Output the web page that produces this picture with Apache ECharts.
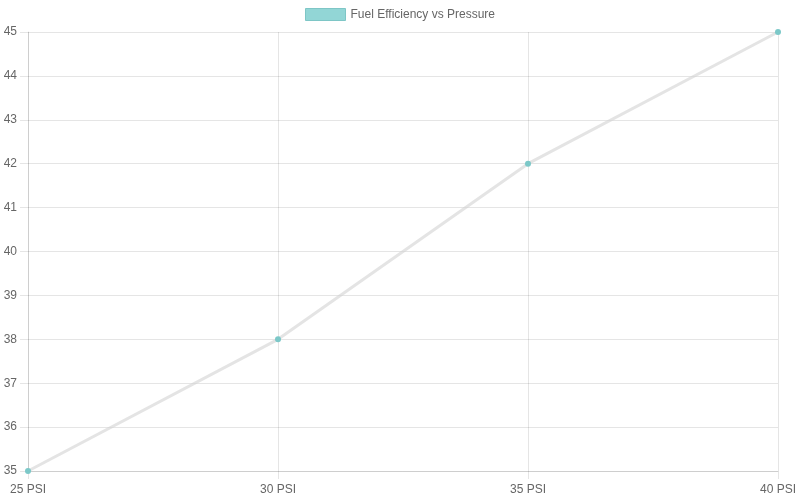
<!DOCTYPE html>
<html><head><meta charset="utf-8">
<script src="https://cdn.jsdelivr.net/npm/echarts@6/dist/echarts.min.js"></script>
<style>html,body{margin:0;padding:0;background:#fff}#c{width:800px;height:500px}</style>
</head><body><div id="c"></div>
<script>
const categories = ['25 PSI', '30 PSI', '35 PSI', '40 PSI'];
const efficiency = [35, 38, 42, 45];
const seriesName = 'Fuel Efficiency vs Pressure';

const chart = echarts.init(document.getElementById('c'));
const gridColor = 'rgba(0,0,0,0.1)';
chart.setOption({
  animation: false,
  textStyle: { fontFamily: 'Liberation Sans, Arial, sans-serif' },
  legend: {
    top: 8, left: 'center', padding: 0,
    itemWidth: 40, itemHeight: 12, itemGap: 10,
    icon: 'rect',
    textStyle: { color: '#666', fontSize: 12 },
    data: [{ name: seriesName, itemStyle: { color: '#92d6d6', borderColor: '#7ec6c6', borderWidth: 1 } }]
  },
  grid: { left: 28, right: 22, top: 32, bottom: 29, containLabel: false },
  xAxis: {
    type: 'category', data: categories, boundaryGap: false,
    axisLine: { lineStyle: { color: gridColor } },
    axisTick: { show: true, length: 8, lineStyle: { color: gridColor } },
    axisLabel: { color: '#666', fontSize: 12, margin: 13 },
    splitLine: { show: true, lineStyle: { color: gridColor } }
  },
  yAxis: {
    type: 'value', min: 35, max: 45, interval: 1,
    axisLine: { show: true, lineStyle: { color: gridColor } },
    axisTick: { show: true, length: 8, lineStyle: { color: gridColor } },
    axisLabel: { color: '#666', fontSize: 12, margin: 11 },
    splitLine: { show: true, lineStyle: { color: gridColor } }
  },
  series: [{
    name: seriesName, type: 'line', data: efficiency,
    lineStyle: { color: 'rgba(210,210,210,0.6)', width: 3 },
    itemStyle: { color: '#7cc8c8' },
    symbol: 'circle', symbolSize: 6, showSymbol: true
  }]
});
</script></body></html>
